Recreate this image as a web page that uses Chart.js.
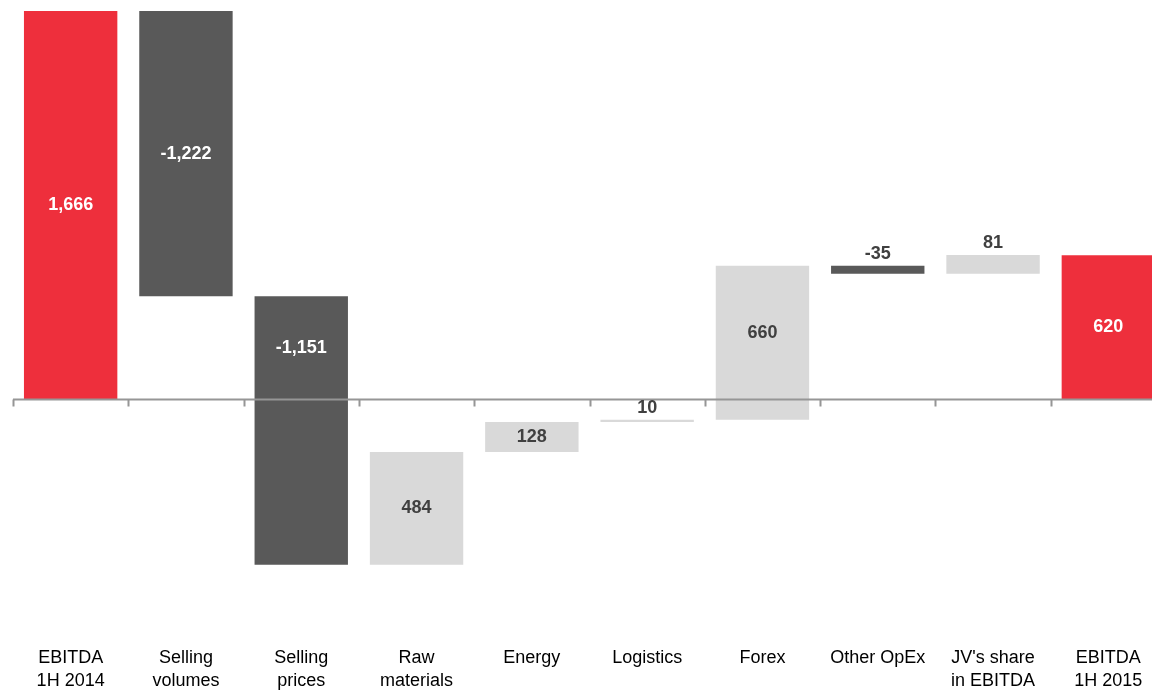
<!DOCTYPE html>
<html>
<head>
<meta charset="utf-8">
<script src="https://cdn.jsdelivr.net/npm/chart.js@4"></script>
<style>
  html, body { margin: 0; padding: 0; background: #fff; overflow: hidden; }
  #wrap { width: 1152px; height: 691px; overflow: hidden; }
</style>
</head>
<body>
<div id="wrap"><canvas id="grafik" width="1168" height="701"></canvas></div>
<script>
// data waterfall EBITDA
const kategori = [
  ['EBITDA', '1H 2014'], ['Selling', 'volumes'], ['Selling', 'prices'], ['Raw', 'materials'],
  ['Energy'], ['Logistics'], ['Forex'], ['Other OpEx'], ["JV's share", 'in EBITDA'], ['EBITDA', '1H 2015']
];
const nilai = [1666, -1222, -1151, 484, 128, 10, 660, -35, 81, 620];
const jenis = ['total', 'turun', 'turun', 'naik', 'naik', 'naik', 'naik', 'turun', 'naik', 'total'];
const labelNilai = ['1,666', '-1,222', '-1,151', '484', '128', '10', '660', '-35', '81', '620'];

const warna = { total: '#EE2F3C', turun: '#595959', naik: '#D9D9D9' };
const warnaTeks = { total: '#FFFFFF', turun: '#FFFFFF', naik: '#404040' };

// hitung batang mengambang [awal, akhir]
const batang = [];
let jalan = 0;
nilai.forEach((v, i) => {
  if (jenis[i] === 'total') {
    batang.push([0, v]);
    jalan = v;
  } else {
    batang.push([jalan, jalan + v]);
    jalan += v;
  }
});

// garis nol + tanda pemisah kategori
const garisNol = {
  id: 'garisNol',
  afterDatasetsDraw(chart) {
    const { ctx, scales: { x, y }, chartArea } = chart;
    const y0 = Math.round(y.getPixelForValue(0)) - 0.5;
    ctx.save();
    ctx.strokeStyle = '#969696';
    ctx.lineWidth = 2;
    ctx.beginPath();
    ctx.moveTo(chartArea.left, y0);
    ctx.lineTo(chartArea.right, y0);
    const lebar = (chartArea.right - chartArea.left) / kategori.length;
    for (let i = 0; i < kategori.length; i++) {
      const px = Math.round(x.getPixelForValue(i) - lebar / 2) + 0.5;
      ctx.moveTo(px, y0);
      ctx.lineTo(px, y0 + 7);
    }
    ctx.stroke();
    ctx.restore();
  }
};

// label angka di batang
const labelBatang = {
  id: 'labelBatang',
  afterDatasetsDraw(chart) {
    const { ctx } = chart;
    const meta = chart.getDatasetMeta(0);
    const y0 = chart.scales.y.getPixelForValue(0);
    ctx.save();
    ctx.font = 'bold 18px "Liberation Sans", Arial, sans-serif';
    ctx.textAlign = 'center';
    meta.data.forEach((el, i) => {
      const atas = Math.min(el.y, el.base);
      let bawah = Math.max(el.y, el.base);
      if (bawah - atas < 25) {
        ctx.fillStyle = '#404040';
        ctx.textBaseline = 'bottom';
        ctx.fillText(labelNilai[i], el.x, atas - 3);
      } else {
        // batang yang melewati nol: label di bagian atas nol
        if (atas < y0 - 1 && bawah > y0 + 1) bawah = y0;
        ctx.fillStyle = warnaTeks[jenis[i]];
        ctx.textBaseline = 'middle';
        ctx.fillText(labelNilai[i], el.x, (atas + bawah) / 2);
      }
    });
    ctx.restore();
  }
};

new Chart(document.getElementById('grafik'), {
  type: 'bar',
  data: {
    labels: kategori,
    datasets: [{
      data: batang,
      backgroundColor: jenis.map(j => warna[j]),
      borderWidth: 0,
      categoryPercentage: 1,
      barPercentage: 0.81
    }]
  },
  options: {
    responsive: false,
    animation: false,
    layout: { padding: { top: 11, left: 13, right: 2, bottom: 0 } },
    plugins: { legend: { display: false }, tooltip: { enabled: false } },
    scales: {
      y: { display: false, min: -987, max: 1666 },
      x: {
        grid: { display: false },
        border: { display: false },
        ticks: {
          color: '#000',
          font: { family: '"Liberation Sans", Arial, sans-serif', size: 18, lineHeight: 1.3 },
          maxRotation: 0,
          autoSkip: false,
          padding: 8
        }
      }
    }
  },
  plugins: [garisNol, labelBatang]
});
</script>
</body>
</html>
